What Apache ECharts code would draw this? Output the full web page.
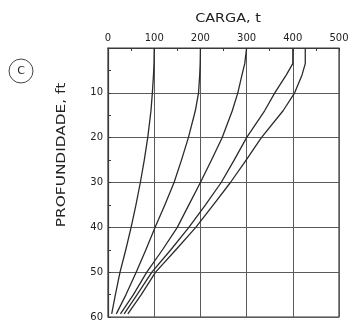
<!DOCTYPE html>
<html>
<head>
<meta charset="utf-8">
<script src="https://cdn.jsdelivr.net/npm/echarts@6/dist/echarts.min.js"></script>
<style>
  html, body { margin: 0; padding: 0; background: #fff; }
  #chart { width: 353px; height: 322px; }
</style>
</head>
<body>
<div id="chart"></div>
<script>
// Depths (ft) at which each load curve is sampled
const depths = [0, 3.5, 6, 10, 14, 20, 25, 30, 35, 40, 45, 50, 55, 59.3];

// Load (t) carried at each depth, one curve per test load
const loadA = [100, 99.5, 98.5, 96, 93, 86, 78.5, 70, 60.5, 50, 38.5, 26, 16, 8];
const loadB = [200, 199.5, 198.5, 196, 189, 174, 159, 143, 123, 102, 82, 61, 39, 18];
const loadC = [300, 296, 290, 281, 269, 247, 224, 200, 175, 150, 118, 84, 55, 27];
const loadD = [400, 400, 386, 361, 339, 300, 273, 245, 211, 175, 136, 95, 63, 35];
const loadE = [427, 427, 420, 404, 379, 332, 299, 265, 228, 190, 147, 103, 72, 43];

// Axis ticks
const loadTicks = [0, 100, 200, 300, 400, 500];
const depthTicks = [0, 10, 20, 30, 40, 50, 60];

const curves = [loadA, loadB, loadC, loadD, loadE];
const ink = '#2b2b2b';
const gridInk = '#5a5a5a';
const font = 'DejaVu Sans';

const chart = echarts.init(document.getElementById('chart'), null, { renderer: 'canvas' });

const tickStyle = { show: true, inside: true, length: 3, lineStyle: { color: '#3a3a3a', width: 1 } };
const minorStyle = { show: true, splitNumber: 2, length: 3, lineStyle: { color: '#3a3a3a', width: 1 } };

chart.setOption({
  animation: false,
  backgroundColor: '#fff',
  grid: {
    left: 108, top: 48, right: 14, bottom: 3,
    show: true, borderColor: '#3a3a3a', borderWidth: 1.2
  },
  xAxis: {
    type: 'value',
    position: 'top',
    min: loadTicks[0],
    max: loadTicks[loadTicks.length - 1],
    interval: 100,
    axisLine: { show: true, lineStyle: { color: '#3a3a3a', width: 1.2 } },
    axisTick: tickStyle,
    minorTick: minorStyle,
    splitLine: { show: true, lineStyle: { color: gridInk, width: 1 } },
    axisLabel: { margin: 5, color: '#222', fontFamily: font, fontSize: 10 }
  },
  yAxis: {
    type: 'value',
    inverse: true,
    min: depthTicks[0],
    max: depthTicks[depthTicks.length - 1],
    interval: 10,
    axisLine: { show: true, lineStyle: { color: '#3a3a3a', width: 1.2 } },
    axisTick: tickStyle,
    minorTick: minorStyle,
    splitLine: { show: true, lineStyle: { color: gridInk, width: 1 } },
    axisLabel: {
      margin: 5, color: '#222', fontFamily: font, fontSize: 10,
      formatter: v => (v === 0 ? '' : String(v))
    }
  },
  series: curves.map(loads => ({
    type: 'line',
    data: loads.map((x, i) => [x, depths[i]]),
    showSymbol: false,
    symbol: 'none',
    smooth: false,
    lineStyle: { color: ink, width: 1.3, join: 'round' }
  })),
  graphic: [
    {
      type: 'text',
      x: 228, y: 19,
      scaleX: 1.2,
      style: {
        text: 'CARGA, t', fontFamily: font, fontSize: 12,
        fill: '#222', textAlign: 'center', textVerticalAlign: 'middle'
      }
    },
    {
      type: 'text',
      x: 62, y: 155,
      rotation: Math.PI / 2,
      scaleX: 1.18,
      style: {
        text: 'PROFUNDIDADE, ft', fontFamily: font, fontSize: 13,
        fill: '#222', textAlign: 'center', textVerticalAlign: 'middle'
      }
    },
    {
      type: 'circle',
      shape: { cx: 21, cy: 71, r: 12 },
      style: { fill: 'none', stroke: '#444', lineWidth: 1 }
    },
    {
      type: 'text',
      x: 21, y: 71,
      style: {
        text: 'C', fontFamily: font, fontSize: 11,
        fill: '#222', textAlign: 'center', textVerticalAlign: 'middle'
      }
    }
  ]
});
</script>
</body>
</html>
